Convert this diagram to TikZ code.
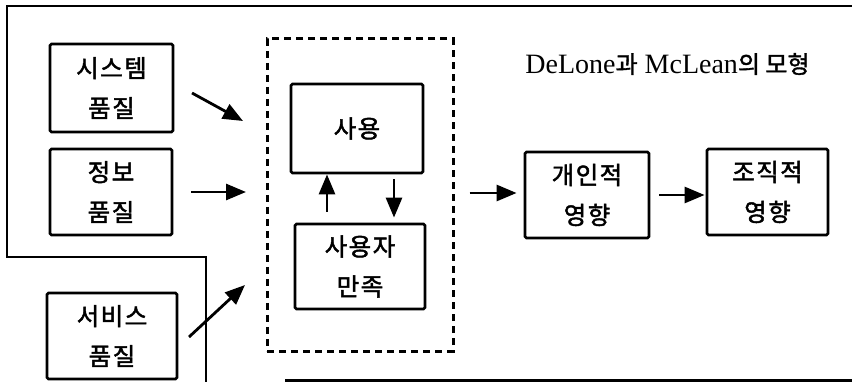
\documentclass[tikz,border=0pt]{standalone}
\usepackage{fontspec}
\setmainfont{Liberation Serif}
\newfontfamily\kr[LetterSpace=6,FakeBold=1.8]{Noto Sans CJK KR}
\newfontfamily\krt[FakeBold=1.5]{Noto Sans CJK KR}
\usetikzlibrary{arrows.meta}
\begin{document}
\begin{tikzpicture}[x=1pt,y=-1pt,
  box/.style={draw,line width=2.8pt,rounded corners=1.5pt,inner sep=0pt,align=center,
    font=\kr\fontsize{24.5}{40}\selectfont},
  dbox/.style={draw,line width=3pt,dash pattern=on 7pt off 5pt,inner sep=0pt},
  arr/.style={line width=2.8pt,-{Triangle[length=20pt,width=16pt]}},
  frame/.style={line width=2.6pt}]
\useasboundingbox (0,0) rectangle (852,382);
% frame
\draw[frame] (852,6) -- (7,6) -- (7,257) -- (206,257) -- (206,382);
\draw[line width=2.2pt] (285,380.5) -- (852,380.5);
% boxes
\node[box,minimum width=123pt,minimum height=88pt] (sys) at (111.5,88) {시스템\\품질};
\node[box,minimum width=122pt,minimum height=86pt] (info) at (111,192) {정보\\품질};
\node[box,minimum width=130pt,minimum height=86pt] (svc) at (112,336) {서비스\\품질};
\node[dbox,minimum width=186pt,minimum height=312pt] (grp) at (360,195) {};
\node[box,minimum width=132pt,minimum height=89pt] (use) at (357,128.5) {사용};
\node[box,minimum width=130pt,minimum height=85pt] (sat) at (360,266.5) {사용자\\만족};
\node[box,minimum width=124pt,minimum height=86pt] (ind) at (587,195) {개인적\\영향};
\node[box,minimum width=121pt,minimum height=86pt] (org) at (767.5,192) {조직적\\영향};
\node[inner sep=0pt,font=\fontsize{28}{30}\selectfont] (title) at (667.5,64)
  {DeLone{\krt\fontsize{24}{26}\selectfont 과} McLean{\krt\fontsize{24}{26}\selectfont 의 모형}};
% arrow coordinates
\coordinate (s1) at (192,93); \coordinate (e1) at (243,121);
\coordinate (s2) at (191,192); \coordinate (e2) at (246,192);
\coordinate (s3) at (189,337); \coordinate (e3) at (245,285);
\draw[arr] (s1) -- (e1);
\draw[arr] (s2) -- (e2);
\draw[arr] (s3) -- (e3);
\draw[arr] ([xshift=-33pt,yshift=11pt]sat.north) -- ([xshift=-30pt]use.south);
\draw[arr] ([xshift=37pt,yshift=-5pt]use.south) -- ([xshift=34pt,yshift=5pt]sat.north);
\draw[arr] ([xshift=15pt,yshift=2pt]grp.east) -- ([xshift=-7pt,yshift=2pt]ind.west);
\draw[arr] ([xshift=9pt]ind.east) -- ([xshift=-1pt,yshift=-3pt]org.west);
\end{tikzpicture}
\end{document}
